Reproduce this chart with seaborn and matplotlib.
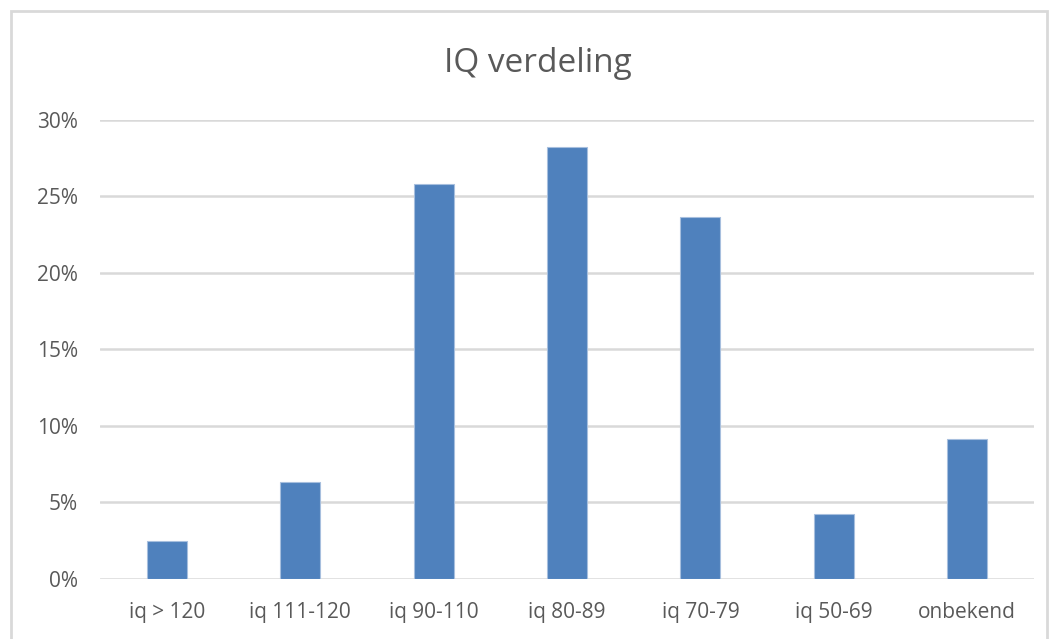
import matplotlib
matplotlib.use("Agg")
import matplotlib.pyplot as plt
import seaborn as sns
import pandas as pd
from matplotlib.patches import Rectangle
from matplotlib.ticker import FuncFormatter

categories = ["iq > 120", "iq 111-120", "iq 90-110", "iq 80-89", "iq 70-79", "iq 50-69", "onbekend"]
values = [2.49, 6.35, 25.8, 28.24, 23.66, 4.25, 9.14]
yticks = [0, 5, 10, 15, 20, 25, 30]
title = "IQ verdeling"

sns.set_theme(style="white")
plt.rcParams['font.family'] = ['Open Sans', 'DejaVu Sans']

df = pd.DataFrame({"cat": categories, "val": values})

fig = plt.figure(figsize=(10.51, 6.39), dpi=100)
fig.patch.set_facecolor("white")
ax = fig.add_axes([0.0951, 0.0942, 0.8887, 0.718])

sns.barplot(data=df, x="cat", y="val", color="#4F81BD", width=0.30, ax=ax,
            saturation=1, edgecolor="#A7BFDE", linewidth=0.8, zorder=3)

ax.set_ylim(0, 30)
ax.set_xlim(-0.5, len(categories) - 0.5)
ax.set_yticks(yticks)
ax.yaxis.set_major_formatter(FuncFormatter(lambda v, p: f"{int(v)}%"))
ax.grid(axis="y", color="#D9D9D9", linewidth=1.8, zorder=0)
ax.set_axisbelow(True)
for s in ax.spines.values():
    s.set_visible(False)
ax.tick_params(axis="both", length=0, labelsize=15, colors="#595959")
ax.tick_params(axis="x", pad=17)
ax.tick_params(axis="y", pad=16)
ax.set_xlabel("")
ax.set_ylabel("")

fig.text(0.512, 0.900, title, ha="center", va="center", fontsize=24, color="#595959")

fig.patches.append(Rectangle((11 / 1051, -0.05), 1036 / 1051, (639 - 11) / 639 + 0.05,
                             transform=fig.transFigure, fill=False,
                             edgecolor="#D9D9D9", linewidth=2))

fig.savefig("out.png", dpi=100)
